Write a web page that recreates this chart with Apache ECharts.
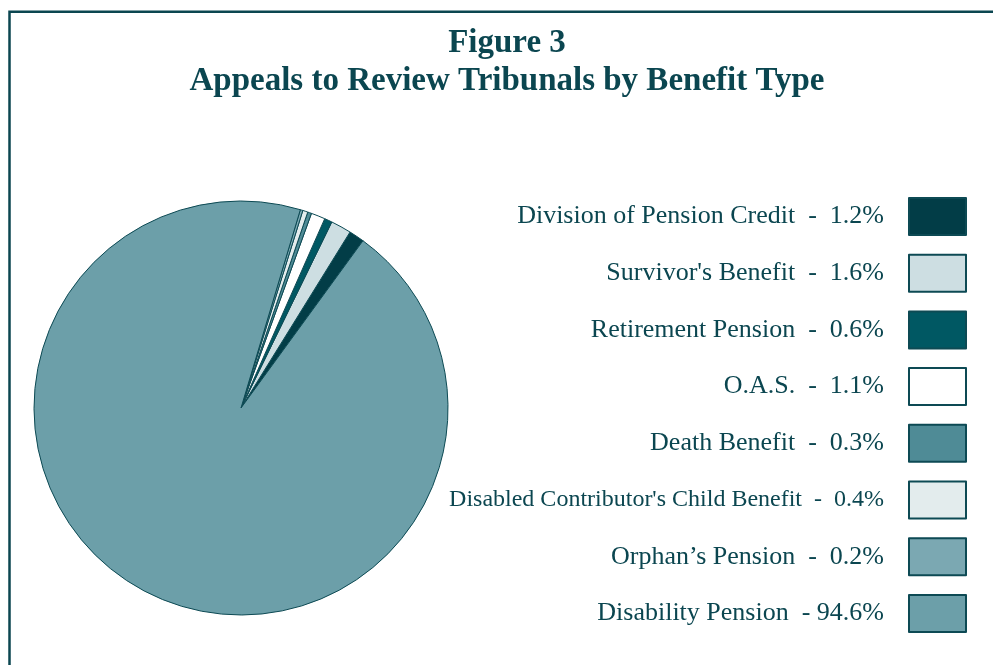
<!DOCTYPE html>
<html>
<head>
<meta charset="utf-8">
<script src="https://cdn.jsdelivr.net/npm/echarts@6/dist/echarts.min.js"></script>
<style>
html,body{margin:0;padding:0;background:#fff;}
#chart{width:993px;height:665px;}
</style>
</head>
<body>
<div id="chart"></div>
<script>
const categories = [
  "Division of Pension Credit",
  "Survivor's Benefit",
  "Retirement Pension",
  "O.A.S.",
  "Death Benefit",
  "Disabled Contributor's Child Benefit",
  "Orphan\u2019s Pension",
  "Disability Pension"
];
const values = [1.2, 1.6, 0.6, 1.1, 0.3, 0.4, 0.2, 94.6];
const colors = ["#023d47", "#cddee2", "#005863", "#ffffff", "#4f8b96", "#e3eced", "#7ba8b2", "#6c9fa9"];

const serif = "'Liberation Serif', 'DejaVu Serif', serif";
const ink = "#0b4650";

const chart = echarts.init(document.getElementById('chart'));
chart.setOption({
  animation: false,
  backgroundColor: '#ffffff',
  title: {
    text: 'Figure 3\nAppeals to Review Tribunals by Benefit Type',
    left: 502,
    top: 19,
    textAlign: 'center',
    textStyle: {
      fontFamily: serif,
      fontWeight: 'bold',
      fontSize: 33,
      lineHeight: 38,
      color: ink
    }
  },
  legend: {
    orient: 'vertical',
    right: 21,
    top: 192,
    align: 'right',
    selectedMode: false,
    icon: 'rect',
    itemWidth: 57,
    itemHeight: 37,
    itemGap: 17.7,
    data: categories.map((c, i) => ({
      name: c,
      textStyle: i === 5 ? { fontSize: 24 } : {}
    })),
    formatter: function (name) {
      const i = categories.indexOf(name);
      return name + (i === 7 ? '  - ' : '  -  ') + values[i].toFixed(1) + '%';
    },
    textStyle: {
      fontFamily: serif,
      fontSize: 26,
      color: ink,
      width: 460,
      align: 'right',
      padding: [0, 20, 0, 0]
    }
  },
  graphic: [{
    type: 'rect',
    silent: true,
    shape: { x: 9.5, y: 11.7, width: 1000, height: 700 },
    style: { fill: 'none', stroke: ink, lineWidth: 2.5 }
  }],
  series: [{
    type: 'pie',
    center: [241, 408],
    radius: 207,
    clockwise: false,
    startAngle: 53.9,
    silent: true,
    label: { show: false },
    labelLine: { show: false },
    itemStyle: { borderColor: '#0d4a54', borderWidth: 1 },
    data: categories.map((c, i) => ({
      name: c,
      value: values[i],
      itemStyle: { color: colors[i] }
    }))
  }]
});
</script>
</body>
</html>
